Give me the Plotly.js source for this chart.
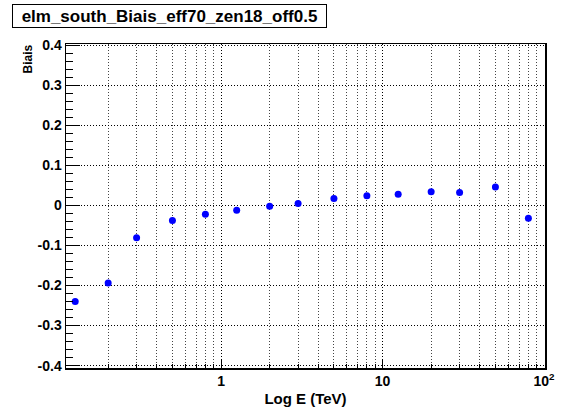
<!DOCTYPE html>
<html><head><meta charset="utf-8">
<script src="https://cdn.plot.ly/plotly-3.0.1.min.js"></script>
<style>html,body{margin:0;padding:0;background:#fff}</style>
</head><body>
<div id="chart" style="width:563px;height:407px"></div>
<script>
const energy = [0.125, 0.2, 0.3, 0.5, 0.8, 1.25, 2, 3, 5, 8, 12.5, 20, 30, 50, 80];
const bias = [-0.240, -0.194, -0.081, -0.038, -0.022, -0.012, -0.002, 0.005, 0.017, 0.024, 0.028, 0.034, 0.032, 0.046, -0.032];
const xMajorTicks = [1, 10, 100];
const xMajorLabels = ['1', '10', '10<sup>2</sup>'];
const xMinorTicks = [0.2,0.3,0.4,0.5,0.6,0.7,0.8,0.9,2,3,4,5,6,7,8,9,20,30,40,50,60,70,80,90];
const yTicks = [-0.4, -0.3, -0.2, -0.1, 0, 0.1, 0.2, 0.3, 0.4];
const yLabels = ['-0.4', '-0.3', '-0.2', '-0.1', '0', '0.1', '0.2', '0.3', '0.4'];
const chartTitle = 'elm_south_Biais_eff70_zen18_off0.5';
const xTitle = 'Log E (TeV)';
const yTitle = 'Biais';

const F = 'Liberation Sans, Arial, Helvetica, sans-serif';
const DOT = '1px,2px';
const data = [{
  x: energy, y: bias, type: 'scatter', mode: 'markers',
  marker: {color: '#0000ff', size: 7}, hoverinfo: 'skip'
}];
const layout = {
  width: 563, height: 407,
  margin: {l: 66, r: 18, t: 44, b: 39},
  paper_bgcolor: '#fff', plot_bgcolor: '#fff',
  showlegend: false,
  xaxis: {
    type: 'log', range: [-0.96, 2.006],
    tickmode: 'array', tickvals: xMajorTicks, ticktext: xMajorLabels,
    ticks: 'inside', ticklen: 8, tickwidth: 1, tickcolor: '#000',
    showgrid: true, gridcolor: '#000', griddash: DOT, gridwidth: 1,
    minor: {tickmode: 'array', tickvals: xMinorTicks, ticks: 'inside', ticklen: 4, tickcolor: '#000',
            showgrid: true, gridcolor: '#444', griddash: DOT, gridwidth: 1},
    showline: true, linecolor: '#000', linewidth: 1.5, mirror: true,
    zeroline: false,
    tickfont: {family: F, size: 14, color: '#000', weight: 'bold'},
    title: {text: xTitle, font: {family: F, size: 15, color: '#000', weight: 'bold'}, standoff: 5}
  },
  yaxis: {
    range: [-0.406, 0.403],
    tickmode: 'array', tickvals: yTicks, ticktext: yLabels,
    ticks: 'inside', ticklen: 14, tickwidth: 1, tickcolor: '#000',
    showgrid: true, gridcolor: '#000', griddash: DOT, gridwidth: 1,
    minor: {dtick: 0.02, tick0: 0, ticks: 'inside', ticklen: 7, tickcolor: '#000', showgrid: false},
    showline: true, linecolor: '#000', linewidth: 1.5, mirror: true,
    zeroline: false,
    tickfont: {family: F, size: 14, color: '#000', weight: 'bold'}
  },
  annotations: [
    {text: chartTitle, xref: 'paper', yref: 'paper',
     x: (12 - 66) / 479, y: (368 - 4) / 324, xanchor: 'left', yanchor: 'top',
     showarrow: false, width: 313, height: 22, borderpad: 0,
     bordercolor: '#000', borderwidth: 1, bgcolor: '#fff',
     font: {family: F, size: 17, color: '#000', weight: 'bold'}},
    {text: yTitle, xref: 'paper', yref: 'paper',
     x: (28 - 66) / 479, y: (368 - 43) / 324, xanchor: 'center', yanchor: 'top',
     textangle: -90, showarrow: false,
     font: {family: F, size: 12, color: '#000', weight: 'bold'}}
  ]
};
Plotly.newPlot('chart', data, layout, {displayModeBar: false, staticPlot: true});
</script>
</body></html>
